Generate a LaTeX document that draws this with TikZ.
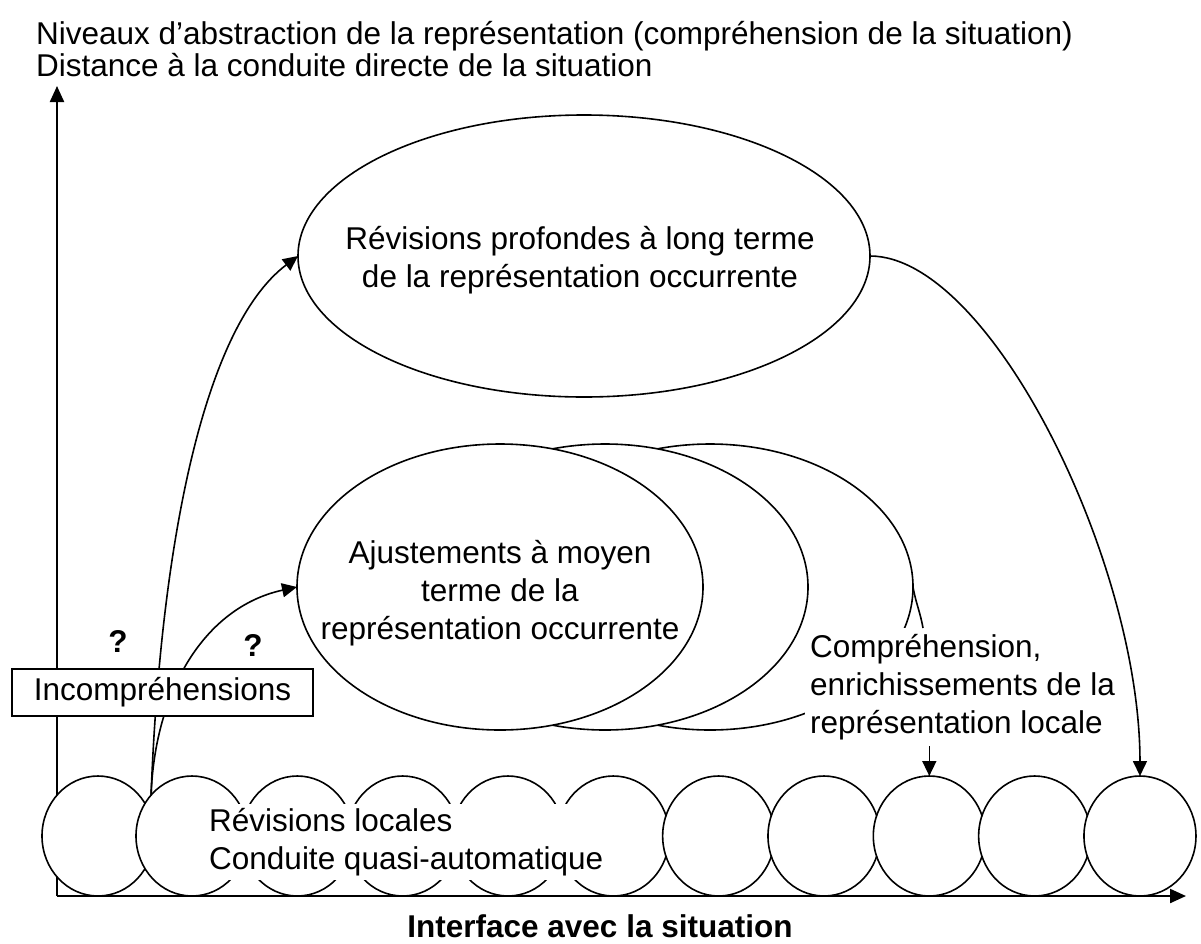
\documentclass[tikz,border=0pt]{standalone}
\usepackage{fontspec}
\setmainfont{Liberation Sans}
\usetikzlibrary{arrows.meta,shapes.geometric}

\tikzset{
  trait/.style={line width=1.6pt},
  fleche/.style={trait,-{Triangle[length=15pt,width=14pt]}},
  axe/.style={line width=2.2pt,-{Triangle[length=16pt,width=14pt]}},
  ovale/.style={ellipse,draw,trait,fill=white,inner sep=0pt,outer sep=0pt},
  bulle/.style={ovale,minimum width=112pt,minimum height=120pt},
  texte/.style={font=\fontsize{31.5}{38}\selectfont,inner sep=0pt},
  gras/.style={texte,font=\fontsize{31.5}{38}\selectfont\bfseries},
}

\begin{document}
\begin{tikzpicture}[x=1pt,y=-1pt]
  \useasboundingbox (0,0) rectangle (1201,943);
  \coordinate (origine) at (57,896);
  \coordinate (haut) at (57,86);
  \coordinate (droite) at (1186,896);
  \draw[axe] (origine) -- (haut);

  % niveaux de representation
  \node[ovale,minimum width=572pt,minimum height=282pt] (grand) at (584,256) {};
  \node[texte,align=center] (grandtxt) at (580,260)
    {Révisions profondes à long terme\\de la représentation occurrente};
  \node[ovale,minimum width=406pt,minimum height=286pt] (moyen3) at (710,587) {};
  \node[ovale,minimum width=406pt,minimum height=286pt] (moyen2) at (605,587) {};
  \node[ovale,minimum width=406pt,minimum height=286pt] (moyen) at (500,587) {};
  \node[texte,align=center] (moyentxt) at (500,593)
    {Ajustements à moyen\\terme de la\\représentation occurrente};

  % conduite locale
  \node[bulle] (c1) at (98,836) {};
  \foreach \i in {2,...,11}
    \node[bulle] (c\i) at ({192+105.33*(\i-2)},836) {};
  \node[texte,fill=white,align=left,anchor=north west,inner xsep=9pt,inner ysep=4pt]
    (locales) at (200,804) {Révisions locales\\Conduite quasi-automatique};

  \node[texte,fill=white,align=left,anchor=north west,inner xsep=5pt,inner ysep=6pt]
    (comp) at (805,628) {Compréhension,\\enrichissements de la\\représentation locale};
  \coordinate (queue) at (923,628);
  \draw[trait] (moyen3.east) to[out=-80,in=100] (queue);

  \draw[fleche] (c2.135) .. controls (160,560) and (200,330) .. (grand.west);
  \draw[fleche] (c2.135) .. controls (155,690) and (205,607) .. (moyen.west);
  \node[texte,draw,line width=1.3pt,fill=white,minimum width=301pt,minimum height=47pt]
    (incomp) at (162.5,692.5) {Incompréhensions};
  \node[gras,anchor=base] (q1) at (118,652) {?};
  \node[gras,anchor=base] (q2) at (253,656) {?};

  \draw[fleche] (grand.east) .. controls +(120,0) and +(0,-215) .. (c11.north);
  \draw[fleche] (c9.north |- comp.south) -- (c9.north);
  \draw[axe] (origine) -- (droite);

  \node[texte,anchor=base west] (titre1) at (36,44)
    {Niveaux d’abstraction de la représentation (compréhension de la situation)};
  \node[texte,anchor=base west] (titre2) at (36,76)
    {Distance à la conduite directe de la situation};
  \node[gras,anchor=base] (interface) at (600,937) {Interface avec la situation};
\end{tikzpicture}
\end{document}
